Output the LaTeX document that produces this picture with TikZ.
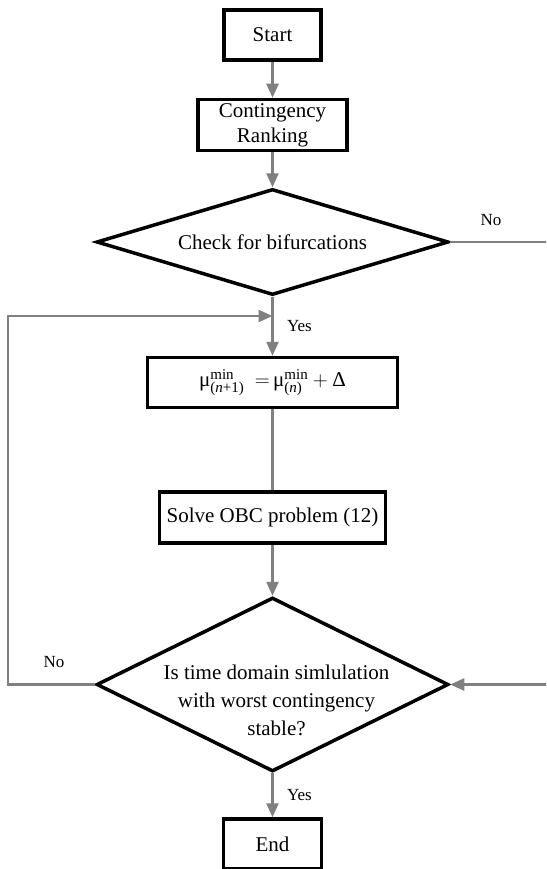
\documentclass[tikz,border=0pt]{standalone}
\usepackage{fontspec}
\setmainfont{Liberation Serif}
\usepackage{amsmath}
\usetikzlibrary{arrows.meta, positioning, shapes.geometric}
\definecolor{flow}{RGB}{128,128,128}
\newcommand{\scr}[1]{\text{\fontsize{15}{15}\selectfont #1}}

\begin{document}
\begin{tikzpicture}[
        x=1pt, y=-1pt,
        block/.style={rectangle, draw, line width=3.5pt, inner sep=2pt,
                      align=center, font=\fontsize{21}{25}\selectfont},
        decision/.style={diamond, draw, line width=3.5pt, inner sep=0pt,
                      aspect=3.2, align=center, font=\fontsize{21}{25}\selectfont},
        arrow/.style={-{Triangle[length=14pt, width=12pt]}, draw=flow, line width=2.5pt},
        link/.style={draw=flow, line width=2.5pt},
        lbl/.style={font=\fontsize{17}{20}\selectfont},
    ]
        \useasboundingbox (0,0) rectangle (546,869);
        \clip (0,0) rectangle (546,869);

        \node[block, minimum width=97pt, minimum height=50pt] (start) at (272.5,35) {Start};
        \node[block, minimum width=149pt, minimum height=51pt, below=36pt of start] (rank) {Contingency\\Ranking};
        \node[decision, minimum width=352pt, minimum height=106pt, below=35pt of rank] (bif) {Check for bifurcations};
        \node[block, minimum width=250pt, minimum height=50pt, below=59pt of bif] (incr)
            {$\text{μ}^{\scr{min}}_{\scr{(\textit{n}+1)}}\enskip{=}\,\text{μ}^{\scr{min}}_{\scr{(\textit{n})}}+\text{Δ}$};
        \node[block, minimum width=226pt, minimum height=51pt, below=81pt of incr] (obc) {Solve OBC problem (12)};
        \node[decision, minimum width=352pt, minimum height=174pt, below=51pt of obc] (stable) {};
        \node[align=center, font=\fontsize{21}{28}\selectfont] (stabletxt) at ([xshift=4pt, yshift=-16pt]stable.center)
            {Is time domain simlulation\\with worst contingency\\stable?};
        \node[block, minimum width=98pt, minimum height=50pt, below=44pt of stable] (end) {End};

        \coordinate (loopL) at (8,316);
        \coordinate (merge) at (bif.south |- loopL);
        \coordinate (noR) at ([xshift=110pt]bif.east);
        \coordinate (inR) at ([xshift=110pt]stable.east);

        \draw[arrow] (start) -- (rank);
        \draw[arrow] (rank) -- (bif);
        \draw[arrow] (bif) -- node[lbl, right=10pt] {Yes} (incr);
        \draw[link] (bif.east) -- node[lbl, pos=0.37, above=12pt] {No} (noR);
        \draw[link] (incr) -- (obc);
        \draw[arrow] (obc) -- (stable);
        \draw[arrow] (inR) -- (stable.east);

        % loop back when unstable
        \draw[arrow] (stable.west) -| node[lbl, pos=0.235, above=12pt] {No} (loopL) -- (merge);
        \draw[arrow] (stable) -- node[lbl, right=10pt] {Yes} (end);

    \end{tikzpicture}
\end{document}
